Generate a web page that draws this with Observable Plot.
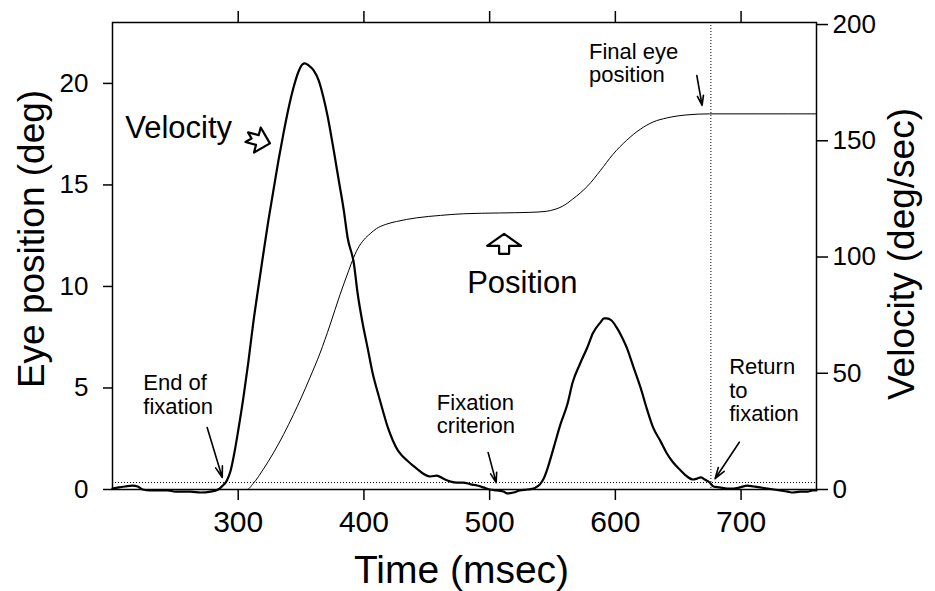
<!DOCTYPE html>
<html>
<head>
<meta charset="utf-8">
<script src="https://cdn.jsdelivr.net/npm/d3@7"></script>
<script src="https://cdn.jsdelivr.net/npm/@observablehq/plot@0.6"></script>
<style>
  html, body { margin: 0; padding: 0; background: #fff; }
  #chart { width: 935px; height: 591px; }
</style>
</head>
<body>
<div id="chart"></div>
<script>
// ---- Data ----
// Velocity trace (deg/sec) vs time (msec)
const velTime = [200,205,210,216,220,224,230,238,244,250,262,270,278,284,287,291,294,297,300,304,308,312,316,320,324,328,332,336,340,344,348,351,353,356,360,364,368,371,376,380,384,387,392,395,399,403,407,411,415,419,423,427,431,437,442,447,453,458,463,469,474,479,485,490,495,500,506,511,514,519,524,530,535,538,540,543,546,551,556,562,566,572,578,582,588,591,593,597,601,605,609,614,620,625,630,636,641,646,652,657,662,665,668,671,675,678,683,689,694,699,705,710,715,721,726,731,737,741,747,753,757,760];
const velValue = [0.4,0.9,1.3,1.7,1.3,0.0,-0.4,-0.4,-0.4,-0.9,-0.9,-1.3,-0.9,0.0,1.3,3.9,8.2,15.9,25.4,39.1,54.6,71.8,86.9,101.5,115.7,128.6,141.5,153.2,163.9,172.9,179.8,182.8,183.3,182.4,180.3,176.0,168.2,160.9,145.8,132.9,120.0,108.4,97.2,84.3,71.4,60.7,49.9,41.7,34.0,26.7,21.1,16.8,14.2,11.2,9.0,6.9,5.6,6.0,4.7,3.4,3.0,3.0,2.2,1.7,0.9,0.0,-0.4,-0.9,-1.7,-1.3,-0.4,0.0,0.4,1.3,2.2,4.7,9.0,18.1,27.5,37.0,46.0,54.2,61.5,67.1,71.8,73.6,73.6,72.7,69.7,65.8,61.1,53.3,43.9,34.8,26.7,20.7,15.5,11.6,8.2,5.6,4.3,4.7,5.2,4.3,3.0,1.3,0.9,0.4,0.4,0.9,1.7,1.3,0.9,0.4,0.0,-0.4,-0.9,-1.3,-0.9,-0.9,-0.4,-0.4];

// Eye position trace (deg) vs time (msec)
const posTime = [200,250,300,307,312,320,328,336,344,350,357,365,373,381,388,391,395,400,405,410,417,426,442,461,479,508,532,545,552,558,566,572,578,588,598,609,620,630,641,657,675,715,760];
const posValue = [0,0,0,0,0.3,1.0,1.8,2.7,3.7,4.5,5.5,6.7,8.1,9.6,10.8,11.3,11.85,12.3,12.6,12.85,13.05,13.2,13.38,13.5,13.58,13.62,13.65,13.7,13.8,13.95,14.3,14.6,14.95,15.7,16.5,17.2,17.75,18.1,18.3,18.45,18.5,18.5,18.5];

// Axes
const timeTicks = [300, 400, 500, 600, 700];
const posTicks = [0, 5, 10, 15, 20];
const velTicks = [0, 50, 100, 150, 200];

// Reference markers
const fixationCriterion = 3;   // deg/sec
const returnTime = 676;        // msec

// Annotation lines (time, eye-position units of the baseline)
const noteText = ["Final eye", "position", "End of", "fixation", "Fixation", "criterion", "Return", "to", "fixation"];
const noteTime = [579, 579, 224.5, 224.5, 458, 458, 690.5, 690.5, 690.5];
const noteDeg  = [21.18, 20.06, 4.88, 3.74, 3.92, 2.76, 5.70, 4.53, 3.37];

// Arrows: [t1, deg1, t2, deg2]
const arrowSegs = [
  [664.8, 20.39, 669.0, 18.92],
  [275.3, 3.05, 287.3, 0.59],
  [498.8, 1.82, 505.2, 0.34],
  [698.6, 2.33, 679.3, 0.53]
];

// ---- Build tables ----
const K = 22.9 / 200; // velocity (deg/sec) -> left-axis units
const vel = velTime.map((t, i) => ({t, v: velValue[i]}));
const pos = posTime.map((t, i) => ({t, p: posValue[i]}));
const notes = noteText.map((s, i) => ({s, t: noteTime[i], d: noteDeg[i]}));
const arrows = arrowSegs.map(([x1, y1, x2, y2]) => ({x1, y1, x2, y2}));
const bigLabels = [{s: "Velocity", t: 210.1, d: 17.29}, {s: "Position", t: 482.1, d: 9.70}];
const hollowArrows = [{t: 316, d: 17.2, r: 105, kind: "v"}, {t: 511.5, d: 12.1, r: 0, kind: "p"}];

// Hollow "block" arrow outlines, drawn pointing up from (0,0) to (0,-l)
function hollowShape(headW, headL, stemW, notch) {
  return {
    draw(ctx, l) {
      const hy = -l + headL;
      ctx.moveTo(0, -l);
      ctx.lineTo(headW / 2, hy);
      ctx.lineTo(stemW / 2, hy);
      ctx.lineTo(stemW / 2, 0);
      ctx.lineTo(0, -notch);
      ctx.lineTo(-stemW / 2, 0);
      ctx.lineTo(-stemW / 2, hy);
      ctx.lineTo(-headW / 2, hy);
      ctx.closePath();
    }
  };
}

const FONT = "'Liberation Sans', Arial, Helvetica, sans-serif";

function arrowMarks(useShapes) {
  if (useShapes) {
    return [
      Plot.vector(hollowArrows.filter(d => d.kind === "v"), {x: "t", y: "d", rotate: "r", length: 24, anchor: "middle", shape: hollowShape(26, 13, 10, 5), stroke: "#000", strokeWidth: 2.2, fill: "none"}),
      Plot.vector(hollowArrows.filter(d => d.kind === "p"), {x: "t", y: "d", rotate: "r", length: 20, anchor: "middle", shape: hollowShape(34, 12, 10, 0), stroke: "#000", strokeWidth: 2.2, fill: "none"})
    ];
  }
  return [Plot.text(hollowArrows, {x: "t", y: "d", text: d => d.kind === "v" ? "\u21E8" : "\u21E7", rotate: d => d.r - 90 * (d.kind === "v"), fontSize: 34, fontFamily: "DejaVu Sans", fill: "#000"})];
}

function build(useShapes) {
  return Plot.plot({
    width: 935,
    height: 591,
    marginLeft: 112,
    marginRight: 119,
    marginTop: 22,
    marginBottom: 102,
    style: {fontFamily: FONT, background: "#fff", color: "#000"},
    x: {domain: [200, 760]},
    y: {domain: [0, 23]},
    marks: [
      Plot.ruleY([fixationCriterion * K], {stroke: "#000", strokeWidth: 1, strokeDasharray: "1,2"}),
      Plot.ruleX([returnTime], {stroke: "#000", strokeWidth: 1, strokeDasharray: "1,2"}),
      Plot.line(pos, {x: "t", y: "p", stroke: "#000", strokeWidth: 1, curve: "monotone-x"}),
      Plot.line(vel, {x: "t", y: d => d.v * K, stroke: "#000", strokeWidth: 2.2, curve: "monotone-x"}),
      Plot.frame({stroke: "#000", strokeWidth: 1.5}),
      Plot.axisX(timeTicks, {anchor: "bottom", tickSize: 11, tickPadding: 10, fontSize: 30, label: null, strokeWidth: 1.5}),
      Plot.axisX(timeTicks, {anchor: "top", tickSize: 12, tickFormat: () => "", label: null, strokeWidth: 1.5}),
      Plot.axisY(posTicks, {anchor: "left", tickSize: 9, tickPadding: 15, fontSize: 26, label: null, strokeWidth: 1.5}),
      Plot.axisY(velTicks.map(v => v * K), {anchor: "right", tickSize: 11, tickPadding: 5, fontSize: 26, label: null, strokeWidth: 1.5, tickFormat: d => String(Math.round(d / K))}),
      // annotations
      Plot.text(notes, {x: "t", y: "d", text: "s", textAnchor: "start", lineAnchor: "bottom", fontSize: 22, fill: "#000"}),
      Plot.text(bigLabels, {x: "t", y: "d", text: "s", textAnchor: "start", lineAnchor: "bottom", fontSize: 31, fill: "#000"}),
      ...arrowMarks(useShapes),
      Plot.arrow(arrows, {x1: "x1", y1: "y1", x2: "x2", y2: "y2", stroke: "#000", strokeWidth: 1.6, headLength: 11, headAngle: 35}),
      // axis titles
      Plot.text(["Time (msec)"], {frameAnchor: "bottom", dy: 93, dx: -3, textAnchor: "middle", lineAnchor: "bottom", fontSize: 39, fill: "#000"}),
      Plot.text(["Eye position (deg)"], {frameAnchor: "left", rotate: -90, dx: -69, dy: -17, textAnchor: "middle", lineAnchor: "bottom", fontSize: 37, fill: "#000"}),
      Plot.text(["Velocity (deg/sec)"], {frameAnchor: "right", rotate: -90, dx: 97, dy: -2, textAnchor: "middle", lineAnchor: "bottom", fontSize: 37, fill: "#000"})
    ]
  });
}

let chart;
try { chart = build(true); } catch (e) { chart = build(false); }
document.getElementById("chart").appendChild(chart);
</script>
</body>
</html>
